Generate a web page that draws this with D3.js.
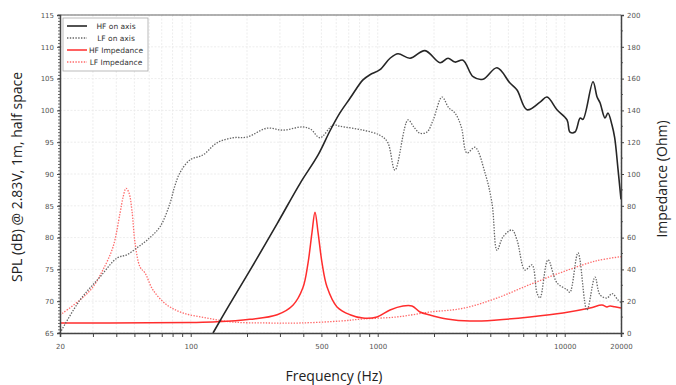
<!DOCTYPE html>
<html>
<head>
<meta charset="utf-8">
<script src="https://cdn.jsdelivr.net/npm/d3@7"></script>
<style>
  html, body { margin: 0; padding: 0; background: #fff; }
  svg { display: block; }
</style>
</head>
<body>
<svg id="chart" width="676" height="385"></svg>
<script>
// ---- Data ----
const hfOnAxisFreq = [131.6, 160, 207, 290, 384, 480, 556, 628, 711, 834, 909, 1028, 1164, 1284, 1489, 1790, 2154, 2377, 2589, 2858, 3236, 3657, 4345, 5097, 5560, 6285, 7380, 8040, 9090, 10290, 10670, 11350, 12100, 12530, 14170, 14900, 15450, 16420, 17030, 17900, 18500, 19300, 20000];
const hfOnAxisDb   = [65, 69.3, 74.8, 82.2, 88.5, 93.0, 96.8, 99.6, 101.9, 104.8, 105.6, 106.4, 108.2, 108.9, 108.2, 109.4, 107.5, 108.2, 107.6, 107.9, 105.3, 104.9, 106.7, 104.3, 103.2, 100.1, 101.3, 102.1, 100.1, 98.5, 96.6, 96.6, 98.8, 98.6, 104.5, 102.1, 101.2, 98.8, 99.6, 97.7, 95.7, 90.6, 86];

const lfOnAxisFreq = [20, 25.6, 32.7, 40.4, 45.6, 51.6, 58.4, 68.5, 77.5, 82, 87.6, 99, 116.3, 138.2, 168.4, 200, 256, 311.6, 398.6, 440, 491, 577, 628, 834, 1028, 1130, 1237, 1452, 1560, 1683, 1835, 1980, 2208, 2400, 2589, 2800, 3002, 3313, 3746, 4086, 4345, 4676, 5225, 5560, 6133, 6684, 7110, 7380, 8140, 9090, 10290, 10670, 11780, 13150, 14520, 15450, 16830, 17900, 19270, 20000];
const lfOnAxisDb   = [65, 70.2, 73.8, 76.8, 77.3, 78.4, 79.6, 81.7, 85.4, 88, 90.2, 92.2, 93.0, 94.9, 95.7, 95.8, 97.2, 96.9, 97.4, 97.0, 95.7, 97.7, 97.5, 96.9, 96.1, 95.0, 90.6, 98.5, 97.4, 96.4, 96.6, 98.5, 102.1, 100.4, 99.6, 97.4, 93.3, 94.2, 90.2, 85.4, 78.0, 80.1, 81.2, 79.6, 74.9, 75.7, 71.3, 70.5, 76.5, 72.9, 71.8, 71.4, 77.6, 68.6, 73.8, 71.0, 70.5, 71.2, 70.2, 69.8];

const hfImpFreq = [20, 60, 100, 138, 207, 290, 352, 398, 424, 445, 462, 480, 504, 536, 606, 711, 834, 991, 1164, 1365, 1525, 1683, 1904, 2347, 3115, 4345, 6520, 9790, 13650, 15820, 16830, 17460, 18500, 20000];
const hfImpOhm  = [6.3, 6.4, 6.6, 7.0, 8.6, 11.5, 17.5, 28.5, 44, 63, 76, 63, 44, 28.9, 16.4, 11.5, 9.4, 10.1, 14.5, 17.0, 17.0, 13.2, 11.3, 8.8, 7.5, 8.2, 10.1, 12.6, 15.7, 17.6, 16.4, 17.0, 16.5, 15.7];

const lfImpFreq = [20, 25.6, 30.0, 33.9, 38.4, 41.9, 43.5, 45.1, 46.8, 48.5, 50.4, 53.6, 57.0, 62.9, 74.7, 90.9, 122.2, 168, 256, 384, 628, 834, 1268, 1904, 2858, 4345, 6520, 9790, 14880, 20000];
const lfImpOhm  = [11.3, 20.8, 28.9, 39.6, 54, 75.5, 85.5, 91, 88, 77, 56.6, 41.5, 37.7, 27, 17.6, 12.6, 9.4, 6.9, 6.3, 6.3, 7.5, 8.8, 10.1, 13.2, 15.5, 22, 30.5, 38.5, 45.5, 48];

const splTicks = [65, 70, 75, 80, 85, 90, 95, 100, 105, 110, 115];
const impTicks = [0, 20, 40, 60, 80, 100, 120, 140, 160, 180, 200];
const freqLabels = [20, 100, 500, 1000, 10000, 20000];
const legendLabels = ["HF on axis", "LF on axis", "HF Impedance", "LF Impedance"];

// ---- Layout ----
const svg = d3.select("#chart");
const L = 60, R = 621, T = 15, B = 333;

const x = d3.scaleLog().domain([20, 20000]).range([L, R]);
const yL = d3.scaleLinear().domain([65, 115]).range([B, T]);
const yR = d3.scaleLinear().domain([0, 200]).range([B, T]);

// frequency ticks (log minor ticks)
const freqTicks = [];
[10, 100, 1000, 10000].forEach(d => { for (let k = 1; k <= 9; k++) { const v = d * k; if (v >= 20 && v <= 20000) freqTicks.push(v); } });

// grid
const grid = svg.append("g");
grid.selectAll("line.v").data(freqTicks).join("line")
  .attr("x1", d => x(d)).attr("x2", d => x(d)).attr("y1", T).attr("y2", B)
  .attr("stroke", "#e8e8e8").attr("stroke-width", 0.8).attr("stroke-dasharray", "2,1.5");
grid.selectAll("line.h").data(splTicks).join("line")
  .attr("x1", L).attr("x2", R).attr("y1", d => yL(d)).attr("y2", d => yL(d))
  .attr("stroke", "#e8e8e8").attr("stroke-width", 0.8).attr("stroke-dasharray", "2,1.5");

// ---- curves ----
const lineL = (fs, vs) => d3.line().curve(d3.curveCatmullRom.alpha(0.5))
  .x(i => x(fs[i])).y(i => yL(vs[i]))(d3.range(fs.length));
const lineR = (fs, vs) => d3.line().curve(d3.curveCatmullRom.alpha(0.5))
  .x(i => x(fs[i])).y(i => yR(vs[i]))(d3.range(fs.length));

const plot = svg.append("g");
plot.append("path").attr("d", lineR(lfImpFreq, lfImpOhm))
  .attr("fill", "none").attr("stroke", "#ff6a6a").attr("stroke-width", 1.3).attr("stroke-dasharray", "1.4,1.4");
plot.append("path").attr("d", lineR(hfImpFreq, hfImpOhm))
  .attr("fill", "none").attr("stroke", "#ff2d2d").attr("stroke-width", 1.5);
plot.append("path").attr("d", lineL(lfOnAxisFreq, lfOnAxisDb))
  .attr("fill", "none").attr("stroke", "#666").attr("stroke-width", 1.3).attr("stroke-dasharray", "1.4,1.4");
plot.append("path").attr("d", lineL(hfOnAxisFreq, hfOnAxisDb))
  .attr("fill", "none").attr("stroke", "#262626").attr("stroke-width", 1.6);

// ---- axes ----
const tickFont = "DejaVu Sans, sans-serif";
const axisColor = "#444";

// frame top
svg.append("line").attr("x1", L).attr("x2", R).attr("y1", T).attr("y2", T)
  .attr("stroke", "#666").attr("stroke-width", 1.2);

// left axis
const gL = svg.append("g").attr("transform", `translate(${L},0)`)
  .call(d3.axisLeft(yL).tickValues(splTicks).tickSize(3).tickPadding(3));
const minorL = d3.range(65, 115.01, 0.5);
svg.append("g").selectAll("line").data(minorL).join("line")
  .attr("x1", L - 2).attr("x2", L).attr("y1", d => yL(d)).attr("y2", d => yL(d))
  .attr("stroke", axisColor).attr("stroke-width", 0.8);

// right axis
const gR = svg.append("g").attr("transform", `translate(${R},0)`)
  .call(d3.axisRight(yR).tickValues(impTicks).tickSize(3).tickPadding(3));
const minorR = d3.range(10, 200, 20);
svg.append("g").selectAll("line").data(minorR).join("line")
  .attr("x1", R).attr("x2", R + 2).attr("y1", d => yR(d)).attr("y2", d => yR(d))
  .attr("stroke", axisColor).attr("stroke-width", 0.8);

// bottom axis
const gB = svg.append("g").attr("transform", `translate(0,${B})`)
  .call(d3.axisBottom(x).tickValues(freqTicks).tickSize(4).tickPadding(7)
    .tickFormat(d => freqLabels.includes(d) ? String(d) : ""));

[gL, gR, gB].forEach(g => {
  g.select(".domain").attr("stroke", axisColor).attr("stroke-width", 1.5);
  g.selectAll(".tick line").attr("stroke", axisColor).attr("stroke-width", 1);
  g.selectAll(".tick text").attr("fill", "#555").attr("font-size", "7px").attr("font-family", tickFont);
});

// ---- titles ----
const titleFont = "'Open Sans', sans-serif";
svg.append("text").attr("transform", "translate(22,177) rotate(-90)")
  .attr("text-anchor", "middle").attr("font-family", titleFont).attr("font-size", "14px").attr("fill", "#222")
  .text("SPL (dB) @ 2.83V, 1m, half space");
svg.append("text").attr("transform", "translate(667,179) rotate(-90)")
  .attr("text-anchor", "middle").attr("font-family", titleFont).attr("font-size", "14px").attr("fill", "#222")
  .text("Impedance (Ohm)");
svg.append("text").attr("x", 334).attr("y", 381)
  .attr("text-anchor", "middle").attr("font-family", titleFont).attr("font-size", "14px").attr("fill", "#222")
  .text("Frequency (Hz)");

// ---- legend ----
const leg = svg.append("g");
leg.append("rect").attr("x", 63).attr("y", 18).attr("width", 85).attr("height", 53)
  .attr("fill", "#fff").attr("stroke", "#aaa").attr("stroke-width", 0.8);
const legStyles = [
  { c: "#262626", w: 1.6, dash: null },
  { c: "#666", w: 1.3, dash: "1.4,1.4" },
  { c: "#ff2d2d", w: 1.5, dash: null },
  { c: "#ff6a6a", w: 1.3, dash: "1.4,1.4" }
];
legendLabels.forEach((lab, i) => {
  const yy = 26 + i * 12;
  const s = legStyles[i];
  const ln = leg.append("line").attr("x1", 67).attr("x2", 87).attr("y1", yy).attr("y2", yy)
    .attr("stroke", s.c).attr("stroke-width", s.w);
  if (s.dash) ln.attr("stroke-dasharray", s.dash);
  leg.append("text").attr("x", 116).attr("y", yy + 2.5).attr("text-anchor", "middle")
    .attr("font-family", tickFont).attr("font-size", "7.5px").attr("fill", "#333").text(lab);
});
</script>
</body>
</html>
